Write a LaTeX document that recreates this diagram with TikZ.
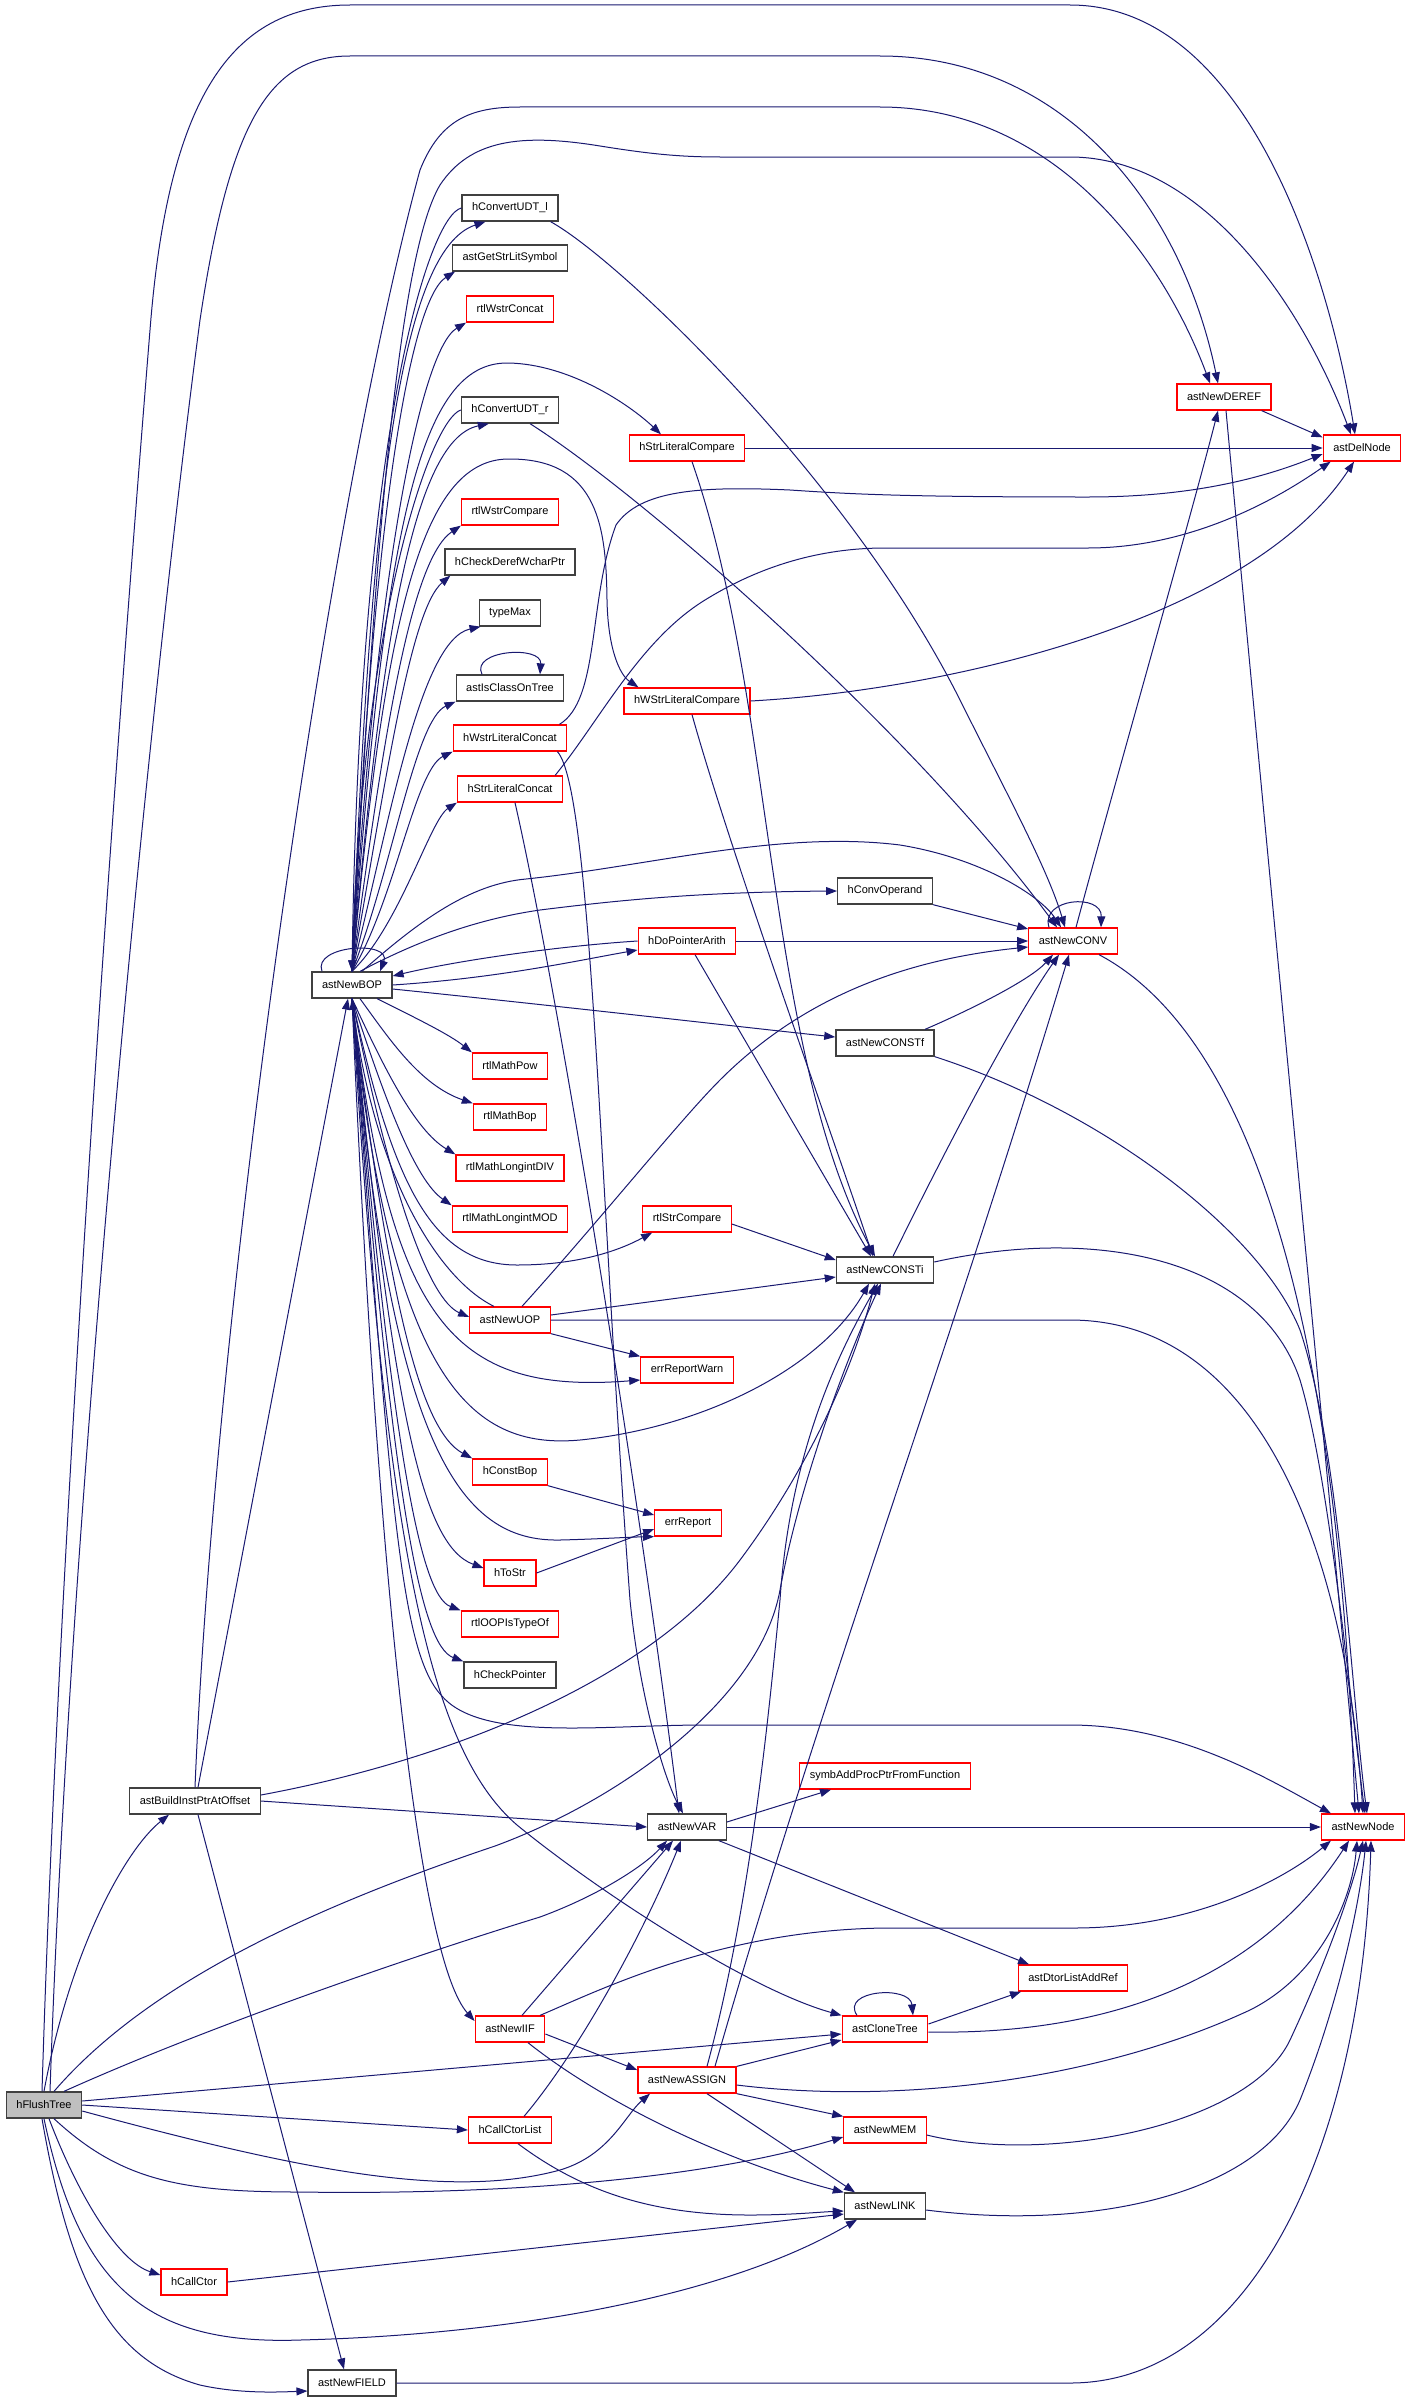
\documentclass[tikz,border=0pt]{standalone}
\usepackage{fontspec}
\setmainfont{Liberation Sans}
\usetikzlibrary{arrows.meta}
\definecolor{callblue}{HTML}{191970}
\tikzset{
  fn/.style={draw=black!75,line width=1.3pt,minimum height=26pt,inner xsep=10pt,inner ysep=0pt,font=\fontsize{11}{13}\selectfont},
  fnred/.style={fn,draw=red},
  callto/.style={draw=callblue,line width=1pt,-{Triangle[length=11pt,width=8pt]}},
}
\begin{document}
\begin{tikzpicture}[x=1pt,y=-1pt]
  \useasboundingbox (0,0) rectangle (1411,2403);
  % functions
  \node[fn,fill=black!25] (flush) at (44,2105) {hFlushTree};
  \node[fn] (build) at (195,1801) {astBuildInstPtrAtOffset};
  \node[fn] (bop) at (352,985) {astNewBOP};
  \node[fn] (cudtl) at (510,208) {hConvertUDT\_l};
  \node[fn] (strlit) at (510,258) {astGetStrLitSymbol};
  \node[fnred] (wcat) at (510,309) {rtlWstrConcat};
  \node[fn] (cudtr) at (510,410) {hConvertUDT\_r};
  \node[fnred] (wcmp) at (510,512) {rtlWstrCompare};
  \node[fn] (hcdw) at (510,562) {hCheckDerefWcharPtr};
  \node[fn] (typemax) at (510,613) {typeMax};
  \node[fn] (classtree) at (510,688) {astIsClassOnTree};
  \node[fnred] (wlitcat) at (510,738) {hWstrLiteralConcat};
  \node[fnred] (slitcat) at (510,789) {hStrLiteralConcat};
  \node[fnred] (slitcmp) at (687,448) {hStrLiteralCompare};
  \node[fnred] (wlitcmp) at (687,701) {hWStrLiteralCompare};
  \node[fnred] (deref) at (1224,397) {astNewDEREF};
  \node[fnred] (delnode) at (1362,448) {astDelNode};
  \node[fn] (convop) at (885,891) {hConvOperand};
  \node[fnred] (conv) at (1073,941) {astNewCONV};
  \node[fnred] (ptrarith) at (687,941) {hDoPointerArith};
  \node[fn] (constf) at (885,1043) {astNewCONSTf};
  \node[fnred] (pow) at (510,1066) {rtlMathPow};
  \node[fnred] (mbop) at (510,1117) {rtlMathBop};
  \node[fnred] (ldiv) at (510,1168) {rtlMathLongintDIV};
  \node[fnred] (lmod) at (510,1219) {rtlMathLongintMOD};
  \node[fnred] (strcmp) at (687,1219) {rtlStrCompare};
  \node[fn] (consti) at (885,1270) {astNewCONSTi};
  \node[fnred] (uop) at (510,1320) {astNewUOP};
  \node[fnred] (warn) at (687,1370) {errReportWarn};
  \node[fnred] (constbop) at (510,1472) {hConstBop};
  \node[fnred] (errrep) at (688,1523) {errReport};
  \node[fnred] (tostr) at (510,1573) {hToStr};
  \node[fnred] (istypeof) at (510,1624) {rtlOOPIsTypeOf};
  \node[fn] (chkptr) at (510,1675) {hCheckPointer};
  \node[fnred] (symbadd) at (885,1776) {symbAddProcPtrFromFunction};
  \node[fn] (var) at (687,1827) {astNewVAR};
  \node[fnred] (newnode) at (1363,1827) {astNewNode};
  \node[fnred] (dtor) at (1073,1978) {astDtorListAddRef};
  \node[fnred] (clone) at (885,2029) {astCloneTree};
  \node[fnred] (iif) at (510,2029) {astNewIIF};
  \node[fnred] (assign) at (687,2080) {astNewASSIGN};
  \node[fnred] (ctorlist) at (510,2130) {hCallCtorList};
  \node[fnred] (mem) at (885,2130) {astNewMEM};
  \node[fn] (link) at (885,2206) {astNewLINK};
  \node[fnred] (ctor) at (194,2282) {hCallCtor};
  \node[fn] (field) at (352,2383) {astNewFIELD};

  % calls of hFlushTree
  \draw[callto] ([xshift=-2pt]flush.north) .. controls (60,1500) and (120,700) .. (150,330) .. controls (168,100) and (230,5) .. (350,5) -- (1070,5) .. controls (1250,5) and (1330,280) .. ([xshift=-7pt]delnode.north);
  \draw[callto] ([xshift=6pt]flush.north) .. controls (70,1500) and (150,700) .. (200,320) .. controls (230,120) and (270,56) .. (350,56) -- (880,56) .. controls (1060,56) and (1180,200) .. ([xshift=-6pt]deref.north);
  \draw[callto] (flush.north) .. controls (70,1950) and (125,1850) .. ([xshift=-26pt]build.south);
  \draw[callto] ([xshift=10pt]flush.north) .. controls (150,1980) and (320,1905) .. (495,1846) .. controls (620,1800) and (760,1700) .. (780,1590) .. controls (800,1480) and (850,1350) .. ([xshift=-4pt]consti.south);
  \draw[callto] ([xshift=20pt]flush.north) .. controls (200,2030) and (400,1960) .. (540,1917) .. controls (600,1895) and (645,1865) .. ([xshift=-20pt]var.south);
  \draw[callto] ([yshift=4pt]flush.east) -- ([yshift=-5pt]clone.west);
  \draw[callto] (flush.east) -- (ctorlist.west);
  \draw[callto] ([yshift=-6pt]flush.east) .. controls (300,2170) and (450,2200) .. (560,2170) .. controls (610,2155) and (625,2115) .. ([xshift=-37pt]assign.south);
  \draw[callto] ([xshift=10pt]flush.south) .. controls (120,2180) and (180,2192) .. (300,2192) .. controls (500,2195) and (700,2180) .. ([yshift=-7pt]mem.west);
  \draw[callto] (flush.south) .. controls (80,2290) and (150,2345) .. (300,2340) .. controls (500,2335) and (720,2300) .. ([xshift=-28pt]link.south);
  \draw[callto] ([xshift=5pt]flush.south) .. controls (80,2200) and (120,2262) .. ([yshift=7pt]ctor.west);
  \draw[callto] ([xshift=-2pt]flush.south) .. controls (70,2280) and (110,2360) .. (200,2385) .. controls (240,2394) and (280,2392) .. ([yshift=-8pt]field.west);

  % calls of astBuildInstPtrAtOffset
  \draw[callto] (build.north) .. controls (215,1300) and (330,500) .. (420,170) .. controls (440,120) and (470,107) .. (520,107) -- (880,107) .. controls (1050,107) and (1160,250) .. ([xshift=-14pt]deref.north);
  \draw[callto] ([xshift=3pt]build.north) -- ([xshift=-4pt]bop.south);
  \draw[callto] (build.east) -- (var.west);
  \draw[callto] ([xshift=3pt]build.south) -- ([xshift=-8pt]field.north);
  \draw[callto] ([yshift=6pt]build.east) .. controls (450,1760) and (650,1680) .. (740,1560) .. controls (800,1480) and (850,1380) .. ([xshift=-10pt]consti.south);

  % calls of astNewBOP
  \draw[callto] ([xshift=-30pt]bop.north) .. controls (312,945) and (392,940) .. ([xshift=28pt]bop.north);
  \draw[callto] (bop.north) .. controls (372,600) and (395,260) .. (440,185) .. controls (470,140) and (520,133) .. (600,146) .. controls (650,154) and (680,157) .. (720,157) -- (1070,157) .. controls (1200,157) and (1300,300) .. ([xshift=-11pt]delnode.north);
  \draw[callto] (bop.north) .. controls (370,500) and (400,250) .. ([xshift=24pt]cudtl.south west);
  \draw[callto] (bop.north) .. controls (372,520) and (410,300) .. ([xshift=3pt]strlit.south west);
  \draw[callto] (bop.north) .. controls (375,580) and (420,350) .. (wcat.south west);
  \draw[callto] (bop.north) .. controls (380,660) and (410,440) .. ([xshift=28pt]cudtr.south west);
  \draw[callto] (bop.north) .. controls (383,740) and (410,560) .. (wcmp.south west);
  \draw[callto] (bop.north) .. controls (386,780) and (410,610) .. ([xshift=6pt]hcdw.south west);
  \draw[callto] (bop.north) .. controls (390,820) and (420,640) .. ([xshift=2pt]typemax.south west);
  \draw[callto] (bop.north) .. controls (392,870) and (415,720) .. (classtree.south west);
  \draw[callto] (bop.north) .. controls (395,900) and (415,770) .. (wlitcat.south west);
  \draw[callto] (bop.north) .. controls (400,925) and (430,820) .. (slitcat.south west);
  \draw[callto] (bop.north) .. controls (385,520) and (420,362) .. (508,363) .. controls (570,364) and (630,405) .. ([xshift=-26pt]slitcmp.north);
  \draw[callto] (bop.north) .. controls (385,620) and (420,460) .. (508,459) .. controls (600,458) and (606,530) .. (607,600) .. controls (608,650) and (620,675) .. ([xshift=15pt]wlitcmp.north west);
  \draw[callto] ([xshift=10pt]bop.north) .. controls (420,920) and (470,884) .. (526,879) .. controls (650,866) and (780,830) .. (900,845) .. controls (980,858) and (1040,895) .. ([xshift=-12pt]conv.north);
  \draw[callto] ([xshift=8pt]bop.north) .. controls (410,945) and (470,920) .. (540,910) .. controls (620,900) and (700,892) .. (convop.west);
  \draw[callto] (bop.east) .. controls (500,978) and (580,960) .. ([yshift=-9pt]ptrarith.west);
  \draw[callto] ([yshift=-4pt]bop.east) .. controls (550,1005) and (750,1028) .. ([yshift=6pt]constf.west);
  \draw[callto] ([xshift=25pt]bop.south) .. controls (420,1020) and (450,1035) .. (pow.north west);
  \draw[callto] ([xshift=8pt]bop.south) .. controls (390,1040) and (420,1085) .. (mbop.north west);
  \draw[callto] (bop.south) .. controls (385,1070) and (415,1130) .. (ldiv.north west);
  \draw[callto] (bop.south) .. controls (385,1100) and (415,1180) .. (lmod.north west);
  \draw[callto] (bop.south) .. controls (392,1180) and (430,1265) .. (517,1265) .. controls (580,1265) and (620,1250) .. ([xshift=10pt]strcmp.south west);
  \draw[callto] (bop.south) .. controls (392,1200) and (430,1300) .. ([yshift=3pt]uop.west);
  \draw[callto] (bop.south) .. controls (390,1320) and (450,1395) .. ([yshift=-10pt]warn.west);
  \draw[callto] (bop.south) .. controls (390,1380) and (470,1450) .. (580,1440) .. controls (700,1428) and (820,1370) .. ([xshift=-16pt]consti.south);
  \draw[callto] (bop.south) .. controls (388,1300) and (420,1430) .. (constbop.north west);
  \draw[callto] (bop.south) .. controls (390,1450) and (460,1542) .. (560,1540) .. controls (600,1539) and (630,1537) .. (errrep.south west);
  \draw[callto] (bop.south) .. controls (392,1400) and (420,1545) .. ([yshift=5pt]tostr.west);
  \draw[callto] (bop.south) .. controls (392,1450) and (420,1595) .. (istypeof.north west);
  \draw[callto] (bop.south) .. controls (392,1500) and (420,1645) .. (chkptr.north west);
  \draw[callto] (bop.south) .. controls (390,1500) and (400,1650) .. (441,1695) .. controls (480,1742) and (600,1725) .. (705,1725) -- (1070,1725) .. controls (1180,1725) and (1270,1780) .. ([xshift=10pt]newnode.north west);
  \draw[callto] (bop.south) .. controls (385,1550) and (430,1750) .. (517,1825) .. controls (600,1893) and (750,1990) .. (clone.north west);
  \draw[callto] (bop.south) .. controls (378,1600) and (420,1960) .. ([yshift=8pt]iif.west);

  % calls back into astNewBOP
  \draw[callto] (cudtl.west) .. controls (430,215) and (360,420) .. (bop.north);
  \draw[callto] (cudtr.west) .. controls (430,420) and (362,620) .. (bop.north);
  \draw[callto] (ptrarith.west) .. controls (560,946) and (460,960) .. ([yshift=9pt]bop.east);
  \draw[callto] ([xshift=-16pt]uop.north) .. controls (440,1280) and (375,1180) .. (bop.south);

  % string helpers
  \draw[callto] ([xshift=-28pt]classtree.north) .. controls (470,650) and (542,645) .. ([xshift=30pt]classtree.north);
  \draw[callto] ([xshift=-8pt]cudtl.south east) .. controls (620,260) and (850,480) .. (960,700) .. controls (1010,800) and (1048,870) .. ([xshift=-8pt]conv.north);
  \draw[callto] ([xshift=20pt]cudtr.south) .. controls (650,500) and (920,740) .. ([xshift=-16pt]conv.north);
  \draw[callto] (slitcmp.east) -- (delnode.west);
  \draw[callto] ([xshift=5pt]slitcmp.south) .. controls (775,700) and (765,1050) .. ([xshift=-10pt]consti.north);
  \draw[callto] (wlitcmp.east) .. controls (950,690) and (1250,620) .. ([xshift=-8pt]delnode.south);
  \draw[callto] ([xshift=5pt]wlitcmp.south) .. controls (730,850) and (820,1100) .. ([xshift=-12pt]consti.north);
  \draw[callto] ([xshift=-8pt]wlitcat.north east) .. controls (600,700) and (588,600) .. (616,525) .. controls (640,490) and (700,486) .. (790,490) .. controls (850,494) and (900,497) .. (1088,497) .. controls (1200,497) and (1270,475) .. ([yshift=-6pt]delnode.west);
  \draw[callto] ([xshift=-8pt]slitcat.north east) .. controls (600,720) and (640,640) .. (705,600) .. controls (760,566) and (820,548) .. (885,548) -- (1088,548) .. controls (1200,548) and (1290,490) .. ([xshift=8pt]delnode.south west);
  \draw[callto] ([xshift=-10pt]wlitcat.south east) .. controls (592,790) and (600,1200) .. (630,1600) .. controls (640,1700) and (665,1780) .. ([xshift=-4pt]var.north);
  \draw[callto] ([xshift=5pt]slitcat.south) .. controls (560,1000) and (640,1500) .. ([xshift=-8pt]var.north);

  % conversions and constants
  \draw[callto] ([xshift=-10pt]deref.south east) -- ([yshift=-3pt]delnode.north west);
  \draw[callto] ([xshift=2pt]deref.south) .. controls (1262,800) and (1330,1500) .. ([xshift=-4pt]newnode.north);
  \draw[callto] ([xshift=3pt]conv.north) .. controls (1110,800) and (1190,520) .. ([xshift=-6pt]deref.south);
  \draw[callto] ([xshift=-24pt]conv.north) .. controls (1040,898) and (1102,893) .. ([xshift=28pt]conv.north);
  \draw[callto] ([xshift=26pt]conv.south) .. controls (1260,1040) and (1340,1350) .. ([xshift=-8pt]newnode.north);
  \draw[callto] (convop.south east) -- ([yshift=12pt]conv.west);
  \draw[callto] (ptrarith.east) -- (conv.west);
  \draw[callto] ([xshift=8pt]ptrarith.south) -- ([xshift=-14pt]consti.north);
  \draw[callto] ([xshift=12pt]uop.north) .. controls (600,1220) and (680,1120) .. (720,1080) .. controls (800,1000) and (900,960) .. ([yshift=-6pt]conv.west);
  \draw[callto] ([yshift=5pt]uop.east) -- ([yshift=-7pt]consti.west);
  \draw[callto] (uop.east) -- (1070,1320) .. controls (1260,1320) and (1345,1550) .. (newnode.north);
  \draw[callto] (uop.south east) -- (warn.north west);
  \draw[callto] ([yshift=-5pt]strcmp.east) -- ([yshift=10pt]consti.west);
  \draw[callto] ([xshift=8pt]consti.north) .. controls (960,1120) and (1020,1010) .. ([xshift=-14pt]conv.south);
  \draw[callto] ([yshift=8pt]consti.east) .. controls (1100,1225) and (1260,1260) .. (1300,1380) .. controls (1330,1480) and (1350,1700) .. ([xshift=2pt]newnode.north);
  \draw[callto] ([xshift=40pt]constf.north) .. controls (970,1010) and (1030,980) .. ([xshift=-20pt]conv.south);
  \draw[callto] (constf.south east) .. controls (1100,1110) and (1260,1230) .. (1300,1330) .. controls (1340,1450) and (1352,1700) .. ([xshift=4pt]newnode.north);
  \draw[callto] (constbop.south east) -- ([yshift=8pt]errrep.west);
  \draw[callto] (tostr.east) -- ([yshift=-6pt]errrep.west);

  % variables, trees and links
  \draw[callto] ([yshift=5pt]var.east) -- ([xshift=-54pt]symbadd.south);
  \draw[callto] (var.east) -- (newnode.west);
  \draw[callto] ([xshift=-8pt]var.south east) -- ([xshift=-44pt]dtor.north);
  \draw[callto] ([xshift=-28pt]clone.north) .. controls (840,1990) and (910,1985) .. ([xshift=28pt]clone.north);
  \draw[callto] ([yshift=5pt]clone.east) -- ([xshift=-52pt]dtor.south);
  \draw[callto] ([yshift=-3pt]clone.east) .. controls (1100,2035) and (1255,1985) .. ([xshift=-14pt]newnode.south);
  \draw[callto] ([xshift=12pt]iif.north) -- ([xshift=-14pt]var.south);
  \draw[callto] ([xshift=30pt]iif.north) .. controls (600,1990) and (720,1930) .. (885,1928) -- (1074,1928) .. controls (1200,1928) and (1290,1875) .. ([xshift=10pt]newnode.south west);
  \draw[callto] ([yshift=-5pt]iif.east) -- ([yshift=10pt]assign.west);
  \draw[callto] ([xshift=18pt]iif.south) .. controls (600,2100) and (720,2160) .. (link.north west);
  \draw[callto] ([xshift=14pt]ctorlist.north) .. controls (580,2050) and (645,1930) .. ([xshift=-6pt]var.south);
  \draw[callto] ([xshift=8pt]ctorlist.south) .. controls (580,2190) and (650,2215) .. (750,2215) .. controls (790,2215) and (820,2212) .. ([yshift=-5pt]link.west);
  \draw[callto] (ctor.east) -- ([yshift=-8pt]link.west);
  \draw[callto] ([xshift=20pt]assign.north) .. controls (752,1900) and (770,1700) .. (780,1600) .. controls (790,1450) and (840,1350) .. ([xshift=-7pt]consti.south);
  \draw[callto] ([xshift=28pt]assign.north) .. controls (820,1700) and (950,1350) .. ([xshift=-4pt]conv.south);
  \draw[callto] (assign.north east) -- ([yshift=-11pt]clone.west);
  \draw[callto] ([yshift=-5pt]assign.east) .. controls (900,2105) and (1100,2080) .. (1250,2010) .. controls (1320,1975) and (1352,1900) .. ([xshift=-6pt]newnode.south);
  \draw[callto] (assign.south east) -- (mem.north west);
  \draw[callto] ([xshift=20pt]assign.south) -- ([xshift=-30pt]link.north);
  \draw[callto] ([yshift=-5pt]mem.east) .. controls (1050,2165) and (1250,2125) .. (1290,2040) .. controls (1325,1965) and (1352,1890) .. (newnode.south);
  \draw[callto] ([yshift=-4pt]link.east) .. controls (1100,2232) and (1262,2190) .. (1300,2100) .. controls (1340,2000) and (1360,1900) .. ([xshift=3pt]newnode.south);
  \draw[callto] (field.east) -- (1070,2383) .. controls (1250,2383) and (1362,2150) .. ([xshift=8pt]newnode.south);
\end{tikzpicture}
\end{document}
